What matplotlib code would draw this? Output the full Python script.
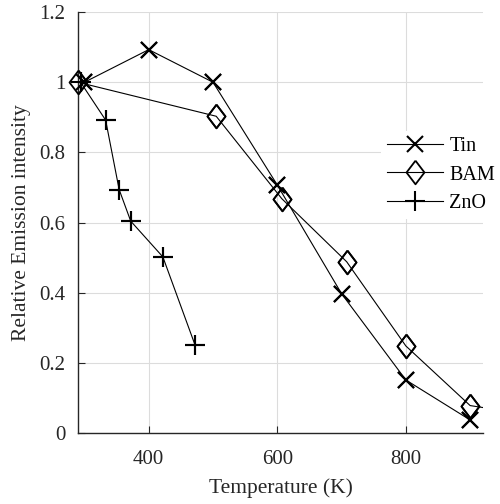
import numpy as np
import matplotlib
matplotlib.use('Agg')
import matplotlib.pyplot as plt

plt.rcParams['font.family'] = ['Liberation Serif', 'DejaVu Serif']

# data
tin_T = [300, 400, 500, 600, 700, 800, 900]
tin_I = [1.0, 1.093, 1.0, 0.707, 0.397, 0.151, 0.037]

bam_T = [290, 505, 607, 708, 800, 900, 1000]
bam_I = [1.0, 0.903, 0.668, 0.488, 0.248, 0.078, 0.05]

zno_T = [294, 333, 354, 372, 422, 472]
zno_I = [1.0, 0.892, 0.694, 0.604, 0.502, 0.251]

xticks = [400, 600, 800]
yticks = [0, 0.2, 0.4, 0.6, 0.8, 1.0, 1.2]
ylabels = ['0', '0.2', '0.4', '0.6', '0.8', '1', '1.2']

diamond = [(0, 1), (0.76, 0), (0, -1), (-0.76, 0), (0, 1)]

fig = plt.figure(figsize=(5, 5.04), dpi=100)
ax = fig.add_axes([0.156, 0.141, 0.81, 0.835])

styles = [
    (tin_T, tin_I, 'Tin', dict(marker='x', ms=12, mew=1.5)),
    (bam_T, bam_I, 'BAM', dict(marker=diamond, ms=17, mew=1.3, mfc='none')),
    (zno_T, zno_I, 'ZnO', dict(marker='+', ms=15, mew=1.5)),
]
for T, I, name, st in styles:
    ax.plot(T, I, color='k', lw=0.8, label=name, **st)
    # markers sitting on the axis edge are not clipped
    pts = [(t, v) for t, v in zip(T, I) if t <= 920]
    ax.plot([p[0] for p in pts], [p[1] for p in pts], ls='none', color='k',
            clip_on=False, zorder=3, **st)

ax.set_xlim(290, 920)
ax.set_ylim(0, 1.2)
ax.set_xticks(xticks)
ax.set_yticks(yticks)
ax.set_yticklabels(ylabels)
ax.grid(True, color='#dcdcdc', lw=0.8)
ax.set_axisbelow(True)

for s in ['top', 'right']:
    ax.spines[s].set_visible(False)
for s in ['left', 'bottom']:
    ax.spines[s].set_color('#262626')
    ax.spines[s].set_linewidth(1.0)
ax.tick_params(direction='in', length=5, labelsize=15, colors='#262626',
               labelcolor='#262626')
ax.tick_params(axis='x', pad=12)
ax.tick_params(axis='y', pad=9)

ax.set_xlabel('Temperature (K)', fontsize=15.5, color='#262626', labelpad=7)
ax.set_ylabel('Relative Emission intensity', fontsize=15.5, color='#262626',
              labelpad=6)

leg = ax.legend(loc='center left', bbox_to_anchor=(0.748, 0.613), fontsize=14.5,
                frameon=True, framealpha=1, edgecolor='none', fancybox=False,
                handlelength=2.8, handletextpad=0.3, labelspacing=0.48,
                borderpad=0.3, borderaxespad=0)

fig.savefig('out.png', dpi=100)
